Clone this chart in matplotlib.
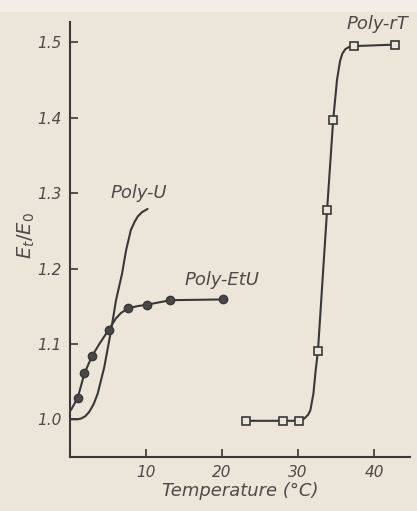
import matplotlib
matplotlib.use("Agg")
import matplotlib.pyplot as plt
from matplotlib.patches import Rectangle

# Poly-U: smooth curve only (no markers)
poly_u_temp = [0.1, 1.0, 1.45, 2.0, 2.54, 3.1, 3.64, 4.5, 5.4, 6.05, 6.84, 7.37, 8.0, 8.5, 8.9, 9.5, 10.2]
poly_u_ratio = [1.000, 1.000, 1.001, 1.004, 1.010, 1.020, 1.034, 1.069, 1.118, 1.158, 1.193, 1.224, 1.251, 1.262, 1.269, 1.275, 1.279]

# Poly-EtU: measured points and drawn curve
etu_temp = [1.0, 1.9, 2.9, 5.1, 7.6, 10.1, 13.2, 20.1]
etu_ratio = [1.028, 1.061, 1.084, 1.119, 1.147, 1.151, 1.158, 1.159]
etu_curve_temp = [0.1, 1.0, 1.9, 2.9, 3.86, 5.1, 6.05, 6.7, 7.6, 8.8, 10.1, 13.2, 20.1]
etu_curve_ratio = [1.012, 1.028, 1.061, 1.084, 1.100, 1.119, 1.134, 1.141, 1.147, 1.150, 1.152, 1.158, 1.159]

# Poly-rT: measured points and drawn curve
rt_temp = [23.1, 28.0, 30.1, 32.6, 33.8, 34.6, 37.3, 42.7]
rt_ratio = [0.998, 0.998, 0.998, 1.091, 1.278, 1.397, 1.495, 1.497]
rt_curve_temp = [23.1, 28.0, 30.1, 30.8, 31.3, 31.6, 32.0, 32.3, 32.6, 33.8, 34.6, 35.1, 35.5, 35.8, 36.2, 36.7, 37.3, 42.7]
rt_curve_ratio = [0.998, 0.998, 0.998, 1.001, 1.006, 1.012, 1.034, 1.065, 1.091, 1.278, 1.397, 1.450, 1.475, 1.485, 1.491, 1.494, 1.495, 1.497]

x_ticks = [10, 20, 30, 40]
y_ticks = [1.0, 1.1, 1.2, 1.3, 1.4, 1.5]

bg = "#ece6da"
ink = "#3a3836"
txt = "#4d4a47"

fig = plt.figure(figsize=(4.17, 5.11), dpi=100, facecolor=bg)
fig.patches.append(Rectangle((0, 1 - 12 / 511), 1, 12 / 511, transform=fig.transFigure,
                             facecolor="#f2eee6", edgecolor="none", zorder=0))
ax = fig.add_axes([70 / 417, 1 - 457 / 511, 340 / 417, 435 / 511])
ax.set_facecolor(bg)

line_kw = dict(color=ink, lw=1.5, solid_joinstyle="round", solid_capstyle="round")
ax.plot(poly_u_temp, poly_u_ratio, **line_kw)
ax.plot(etu_curve_temp, etu_curve_ratio, **line_kw)
ax.plot(etu_temp, etu_ratio, "o", color="#4a4846", ms=6, mec=ink)
ax.plot(rt_curve_temp, rt_curve_ratio, **line_kw)
ax.plot(rt_temp, rt_ratio, "s", color=ink, mfc=bg, ms=6, mew=1.2)

ax.set_xlim(0, 44.7)
ax.set_ylim(0.95, 1.527)
for s in ["top", "right"]:
    ax.spines[s].set_visible(False)
for s in ["left", "bottom"]:
    ax.spines[s].set_color(ink)
    ax.spines[s].set_linewidth(1.5)

fnt = dict(family="DejaVu Sans", style="italic", color=txt)
ax.set_xticks(x_ticks)
ax.set_yticks(y_ticks)
ax.set_xticklabels([str(t) for t in x_ticks], fontsize=11, **fnt)
ax.set_yticklabels(["%.1f" % t for t in y_ticks], fontsize=11, **fnt)
ax.tick_params(direction="in", length=6, width=1.2, color=ink, pad=6)

ax.set_xlabel("Temperature (°C)", fontsize=13, labelpad=1, **fnt)
ax.set_ylabel(r"$E_t/E_0$", fontsize=14, color=txt)
ax.yaxis.set_label_coords(-0.097, 0.51)

ax.text(5.3, 1.30, "Poly-U", fontsize=13, va="center", **fnt)
ax.text(15.1, 1.185, "Poly-EtU", fontsize=13, va="center", **fnt)
ax.text(36.4, 1.525, "Poly-rT", fontsize=13, va="center", clip_on=False, **fnt)

fig.savefig("out.png", dpi=100, facecolor=bg)
